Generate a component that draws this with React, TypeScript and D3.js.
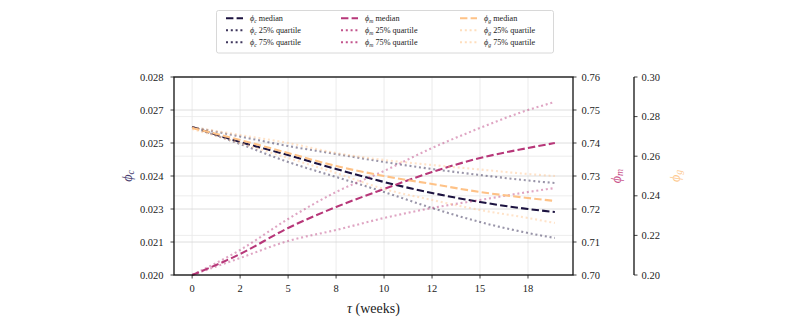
import * as d3 from 'd3';

// ---- data ----
const weeks = [0, 2.5, 5, 7.5, 10, 12.5, 15, 17.5, 18.9];

const phiCMedian = [0.02598, 0.025374, 0.024848, 0.024283, 0.023758, 0.023313, 0.022949, 0.022667, 0.022545];
const phiCQ25 = [0.02598, 0.025293, 0.024566, 0.02396, 0.023354, 0.022707, 0.022141, 0.021697, 0.021495];
const phiCQ75 = [0.02598, 0.025596, 0.025212, 0.024889, 0.024566, 0.024283, 0.02404, 0.023818, 0.023717];

const phiMMedian = [0.7, 0.70636, 0.71424, 0.72061, 0.72606, 0.73121, 0.73545, 0.73848, 0.74];
const phiMQ25 = [0.7, 0.70515, 0.7103, 0.71364, 0.71727, 0.7203, 0.72273, 0.72515, 0.72636];
const phiMQ75 = [0.7, 0.70758, 0.71697, 0.72515, 0.73152, 0.73848, 0.74455, 0.75, 0.75242];

const phiGMedian = [0.27424, 0.26818, 0.26162, 0.25505, 0.25, 0.24596, 0.24192, 0.23889, 0.23737];
const phiGQ25 = [0.27374, 0.26667, 0.25909, 0.25152, 0.24343, 0.23788, 0.23283, 0.22879, 0.22626];
const phiGQ75 = [0.27475, 0.27071, 0.26667, 0.26162, 0.25808, 0.25556, 0.25328, 0.25101, 0.25];

const xTickLabels = ['0', '2', '5', '8', '10', '12', '15', '18'];
const cTickLabels = ['0.020', '0.021', '0.023', '0.024', '0.025', '0.027', '0.028'];
const mTickLabels = ['0.70', '0.71', '0.72', '0.73', '0.74', '0.75', '0.76'];
const gTickLabels = ['0.20', '0.22', '0.24', '0.26', '0.28', '0.30'];

const W = 793;
const H = 319;
const left = 174, right = 573, top = 77, bottom = 275;
const gAxisX = 634;
const font = '"Liberation Serif", "DejaVu Serif", serif';

const cColor = '#1c1340';
const mColor = '#b73779';
const gColor = '#fec287';

const x = d3.scaleLinear().domain([-0.945, 19.845]).range([left, right]);
const yC = d3.scaleLinear().domain([0.02, 0.028]).range([bottom, top]);
const yM = d3.scaleLinear().domain([0.7, 0.76]).range([bottom, top]);
const yG = d3.scaleLinear().domain([0.2, 0.3]).range([bottom, top]);

// evenly spaced tick positions, as in a linspace locator
const spaced = (dom: number[], n: number) =>
  d3.range(n).map(i => dom[0] + (i * (dom[1] - dom[0])) / (n - 1));
const xTicks = xTickLabels.map((_, i) => i * 2.5);
const cTicks = spaced(yC.domain(), cTickLabels.length);
const mTicks = spaced(yM.domain(), mTickLabels.length);
const gTicks = spaced(yG.domain(), gTickLabels.length);

const DASH = '7.4,3.2';
const DOT = '2,2.8';

interface Series {
  values: number[];
  scale: d3.ScaleLinear<number, number>;
  color: string;
  dash: string;
  opacity: number;
}

const series: Series[] = [
  { values: phiCMedian, scale: yC, color: cColor, dash: DASH, opacity: 1 },
  { values: phiCQ25, scale: yC, color: cColor, dash: DOT, opacity: 0.45 },
  { values: phiCQ75, scale: yC, color: cColor, dash: DOT, opacity: 0.45 },
  { values: phiMMedian, scale: yM, color: mColor, dash: DASH, opacity: 1 },
  { values: phiMQ25, scale: yM, color: mColor, dash: DOT, opacity: 0.45 },
  { values: phiMQ75, scale: yM, color: mColor, dash: DOT, opacity: 0.45 },
  { values: phiGMedian, scale: yG, color: gColor, dash: DASH, opacity: 1 },
  { values: phiGQ25, scale: yG, color: gColor, dash: DOT, opacity: 0.45 },
  { values: phiGQ75, scale: yG, color: gColor, dash: DOT, opacity: 0.45 },
];

const legendCols = [
  { sub: 'c', color: cColor, x: 226 },
  { sub: 'm', color: mColor, x: 341 },
  { sub: 'g', color: gColor, x: 460 },
];
const legendRows = ['median', '25% quartile', '75% quartile'];
const legendRowY = [18.3, 30.2, 42.3];

function Phi({ sub }: { sub: string }) {
  return (
    <>
      <tspan fontStyle="italic">ϕ</tspan>
      <tspan fontStyle="italic" fontSize="70%" dy={2}>{sub}</tspan>
      <tspan dy={-2}> </tspan>
    </>
  );
}

export default function App() {
  const makeLine = (s: Series) =>
    d3
      .line<number>()
      .x((_, i) => x(weeks[i]))
      .y(d => s.scale(d))
      .curve(d3.curveMonotoneX)(s.values) || '';

  return (
    <div style={{ position: 'absolute', left: 0, top: 0 }}>
      <svg width={W} height={H} style={{ display: 'block', fontFamily: font }}>
        <rect width={W} height={H} fill="#fff" />

        {/* grids */}
        {xTicks.map((t, i) => (
          <line key={'vx' + i} x1={x(t)} x2={x(t)} y1={top} y2={bottom} stroke="#e6e6e6" strokeWidth={0.8} />
        ))}
        {gTicks.map((t, i) => (
          <line key={'gg' + i} x1={left} x2={right} y1={yG(t)} y2={yG(t)} stroke="#e8e8e8" strokeWidth={0.8} />
        ))}
        {cTicks.map((t, i) => (
          <line key={'gc' + i} x1={left} x2={right} y1={yC(t)} y2={yC(t)} stroke="#d6d6d6" strokeWidth={0.8} />
        ))}

        {/* series */}
        <g>
          {series.map((s, i) => (
            <path
              key={i}
              d={makeLine(s)}
              fill="none"
              stroke={s.color}
              strokeOpacity={s.opacity}
              strokeWidth={2.1}
              strokeDasharray={s.dash}
            />
          ))}
        </g>

        {/* frame */}
        <rect x={left} y={top} width={right - left} height={bottom - top} fill="none" stroke="#111" strokeWidth={1.3} />
        <line x1={gAxisX} x2={gAxisX} y1={top} y2={bottom} stroke="#111" strokeWidth={1.3} />

        {/* x axis */}
        {xTicks.map((t, i) => (
          <g key={'xt' + i}>
            <line x1={x(t)} x2={x(t)} y1={bottom} y2={bottom + 3.5} stroke="#111" strokeWidth={0.8} />
            <text x={x(t)} y={292} textAnchor="middle" fontSize={10.5} fill="#222">
              {xTickLabels[i]}
            </text>
          </g>
        ))}
        <text x={(left + right) / 2} y={313} textAnchor="middle" fontSize={14} fill="#222">
          <tspan fontStyle="italic">τ</tspan> (weeks)
        </text>

        {/* left axis */}
        {cTicks.map((t, i) => (
          <g key={'ct' + i}>
            <line x1={left - 3.5} x2={left} y1={yC(t)} y2={yC(t)} stroke="#111" strokeWidth={0.8} />
            <text x={163.5} y={yC(t) + 3.6} textAnchor="end" fontSize={10.5} fill="#222">
              {cTickLabels[i]}
            </text>
          </g>
        ))}
        <text transform={`translate(132,${(top + bottom) / 2}) rotate(-90)`} textAnchor="middle" fontSize={14} fill="#4b4272">
          <Phi sub="c" />
        </text>

        {/* right axis, phi_m */}
        {mTicks.map((t, i) => (
          <g key={'mt' + i}>
            <line x1={right} x2={right + 3.5} y1={yM(t)} y2={yM(t)} stroke="#111" strokeWidth={0.8} />
            <text x={581.5} y={yM(t) + 3.6} fontSize={10.5} fill="#222">
              {mTickLabels[i]}
            </text>
          </g>
        ))}
        <text transform={`translate(621,${(top + bottom) / 2}) rotate(-90)`} textAnchor="middle" fontSize={14} fill="#c8508a">
          <Phi sub="m" />
        </text>

        {/* offset axis, phi_g */}
        {gTicks.map((t, i) => (
          <g key={'gt' + i}>
            <line x1={gAxisX} x2={gAxisX + 3.5} y1={yG(t)} y2={yG(t)} stroke="#111" strokeWidth={0.8} />
            <text x={641.5} y={yG(t) + 3.6} fontSize={10.5} fill="#222">
              {gTickLabels[i]}
            </text>
          </g>
        ))}
        <text transform={`translate(680,${(top + bottom) / 2}) rotate(-90)`} textAnchor="middle" fontSize={14} fill="#fdc98f">
          <Phi sub="g" />
        </text>

        {/* legend */}
        <rect x={216.5} y={10.5} width={337} height={42.5} rx={2} fill="#fff" stroke="#d4d4d4" strokeWidth={0.9} />
        {legendCols.map((c, ci) =>
          legendRows.map((r, ri) => (
            <g key={ci + '-' + ri}>
              <line
                x1={c.x}
                x2={c.x + 17}
                y1={legendRowY[ri]}
                y2={legendRowY[ri]}
                stroke={c.color}
                strokeWidth={2.1}
                strokeOpacity={ri === 0 ? 1 : ci === 2 ? 0.55 : 0.85}
                strokeDasharray={ri === 0 ? DASH : DOT}
              />
              <text x={c.x + 24} y={legendRowY[ri] + 3} fontSize={8.2} fill="#222">
                <Phi sub={c.sub} />
                {r}
              </text>
            </g>
          ))
        )}
      </svg>
    </div>
  );
}
